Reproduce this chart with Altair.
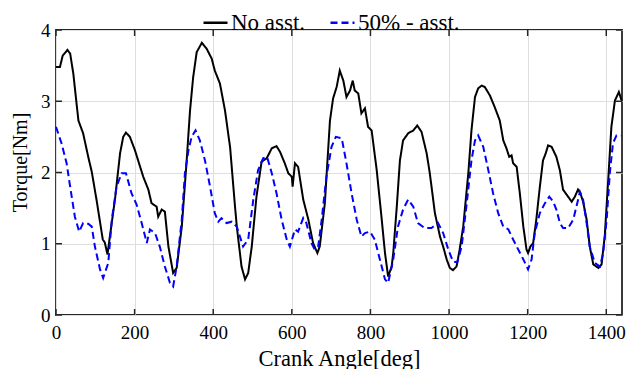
import altair as alt
import pandas as pd

# ---- data ----
angle_no = [0, 10, 17, 29, 36, 44, 57, 69, 82, 91, 103, 119, 124, 131, 137, 150, 163, 171, 178, 188,
            201, 214, 222, 235, 243, 256, 260, 269, 277, 286, 298, 307, 320, 332, 341, 349, 358, 371,
            383, 396, 404, 417, 430, 443, 455, 460, 472, 481, 489, 498, 510, 523, 536, 549, 561, 570,
            582, 591, 600, 602, 608, 616, 629, 642, 654, 665, 671, 684, 697, 705, 714, 722, 731, 739,
            748, 755, 760, 769, 777, 786, 794, 803, 816, 828, 837, 845, 854, 858, 867, 875, 883, 896,
            909, 919, 930, 943, 951, 964, 977, 985, 994, 1002, 1010, 1019, 1027, 1036, 1049, 1057,
            1066, 1074, 1083, 1091, 1104, 1116, 1129, 1138, 1146, 1153, 1159, 1163, 1172, 1180, 1189,
            1197, 1201, 1207, 1214, 1222, 1231, 1239, 1246, 1252, 1261, 1273, 1282, 1290, 1299, 1312,
            1320, 1328, 1334, 1341, 1350, 1358, 1367, 1380, 1388, 1396, 1405, 1413, 1422, 1432, 1439]
torque_no = [3.48, 3.48, 3.64, 3.72, 3.67, 3.39, 2.73, 2.55, 2.22, 2.01, 1.62, 1.06, 1.02, 0.85, 1.10,
             1.62, 2.27, 2.50, 2.56, 2.50, 2.31, 2.08, 1.94, 1.76, 1.57, 1.52, 1.38, 1.48, 1.45, 0.96,
             0.59, 0.66, 1.24, 2.13, 2.87, 3.34, 3.69, 3.82, 3.74, 3.60, 3.43, 3.25, 2.87, 2.35, 1.55,
             1.24, 0.68, 0.50, 0.59, 0.96, 1.66, 2.15, 2.20, 2.34, 2.37, 2.29, 2.13, 1.99, 1.94, 1.80,
             2.13, 2.08, 1.62, 1.34, 1.01, 0.87, 0.96, 1.57, 2.73, 3.04, 3.20, 3.43, 3.29, 3.06, 3.15,
             3.29, 3.15, 3.11, 2.83, 2.90, 2.64, 2.59, 2.03, 1.38, 0.87, 0.54, 0.68, 0.87, 1.52, 2.17,
             2.45, 2.55, 2.59, 2.66, 2.57, 2.27, 1.99, 1.43, 1.10, 0.96, 0.78, 0.66, 0.63, 0.68, 0.92,
             1.24, 1.99, 2.59, 3.06, 3.18, 3.22, 3.20, 3.08, 2.92, 2.73, 2.45, 2.34, 2.22, 2.24, 2.13,
             2.08, 1.71, 1.24, 0.92, 0.87, 0.96, 1.01, 1.34, 1.80, 2.17, 2.27, 2.38, 2.36, 2.22, 2.03,
             1.76, 1.69, 1.59, 1.66, 1.76, 1.71, 1.59, 1.34, 0.96, 0.71, 0.66, 0.71, 1.10, 1.90, 2.64,
             3.01, 3.13, 3.01]

angle_half = [0, 14, 27, 36, 48, 59, 69, 82, 91, 99, 112, 120, 133, 142, 154, 167, 178, 192, 205, 218,
              231, 239, 252, 264, 277, 290, 298, 307, 320, 328, 337, 345, 355, 366, 379, 392, 404, 413,
              421, 434, 447, 460, 476, 489, 502, 514, 527, 537, 549, 561, 574, 587, 595, 608, 616, 629,
              637, 650, 658, 667, 676, 688, 701, 712, 727, 739, 752, 765, 777, 786, 799, 811, 824, 837,
              845, 858, 870, 883, 896, 909, 921, 938, 955, 972, 985, 998, 1010, 1021, 1032, 1044, 1057,
              1066, 1074, 1087, 1100, 1112, 1125, 1138, 1151, 1163, 1176, 1189, 1201, 1210, 1218, 1231,
              1244, 1255, 1265, 1273, 1282, 1290, 1303, 1316, 1324, 1333, 1341, 1350, 1358, 1371, 1384,
              1392, 1401, 1409, 1417, 1426, 1439]
torque_half = [2.64, 2.41, 2.13, 1.80, 1.38, 1.17, 1.29, 1.28, 1.24, 0.96, 0.64, 0.52, 0.73, 1.34, 1.80,
               1.99, 1.99, 1.71, 1.55, 1.29, 1.01, 1.20, 1.15, 0.96, 0.68, 0.45, 0.40, 0.68, 1.34, 1.99,
               2.31, 2.50, 2.59, 2.45, 2.17, 1.80, 1.43, 1.31, 1.36, 1.29, 1.31, 1.24, 0.96, 1.06, 1.62,
               2.03, 2.20, 2.22, 1.99, 1.71, 1.34, 1.06, 0.96, 1.20, 1.17, 1.36, 1.29, 1.01, 0.92, 0.96,
               1.34, 1.94, 2.36, 2.50, 2.48, 2.13, 1.71, 1.34, 1.10, 1.15, 1.17, 1.06, 0.78, 0.50, 0.45,
               0.78, 1.24, 1.48, 1.62, 1.52, 1.29, 1.22, 1.22, 1.29, 1.15, 0.92, 0.75, 0.74, 0.96, 1.52,
               2.17, 2.45, 2.52, 2.36, 2.03, 1.71, 1.43, 1.24, 1.20, 1.06, 0.92, 0.78, 0.64, 0.78, 1.15,
               1.43, 1.57, 1.66, 1.59, 1.48, 1.29, 1.22, 1.22, 1.34, 1.52, 1.73, 1.62, 1.29, 0.96, 0.73,
               0.68, 0.87, 1.34, 1.99, 2.41, 2.52, 2.52]

series_names = ["No asst.", "50% - asst."]
x_ticks = [0, 200, 400, 600, 800, 1000, 1200, 1400]
y_ticks = [0, 1, 2, 3, 4]

df = pd.concat([
    pd.DataFrame({"angle": angle_no, "torque": torque_no, "series": series_names[0]}),
    pd.DataFrame({"angle": angle_half, "torque": torque_half, "series": series_names[1]}),
], ignore_index=True)

FONT = "Liberation Serif, Times New Roman, Times, serif"
W, H = 566, 285
FRAME = "#262626"

x_axis = alt.Axis(values=x_ticks, format="d", title="Crank Angle[deg]", ticks=False, tickSize=0,
                  domain=False, grid=True, gridColor="#dedede", gridWidth=1,
                  labelFont=FONT, labelFontSize=19, labelColor="black", labelPadding=17,
                  labelBaseline="middle", labelFlush=False,
                  titleFont=FONT, titleFontSize=22.5, titleFontWeight="normal", titleColor="black",
                  titleBaseline="middle", titleY=43)
y_axis = alt.Axis(values=y_ticks, format="d", title="Torque[Nm]", ticks=False, tickSize=0,
                  domain=False, grid=True, gridColor="#dedede", gridWidth=1,
                  labelFont=FONT, labelFontSize=19, labelColor="black", labelPadding=6,
                  labelBaseline="middle", labelFlush=False,
                  titleFont=FONT, titleFontSize=20, titleFontWeight="normal", titleColor="black",
                  titleBaseline="middle", titleX=-36, titleY=132)

X = alt.X("angle:Q", scale=alt.Scale(domain=[0, 1440], nice=False, zero=False), axis=x_axis)
Y = alt.Y("torque:Q", scale=alt.Scale(domain=[0, 4], nice=False), axis=y_axis)

legend_opts = dict(title=None, orient="none", legendX=146, legendY=-21, direction="horizontal",
                   symbolType="stroke", symbolSize=576, symbolStrokeWidth=2.5, labelFont=FONT,
                   labelFontSize=23, labelColor="black", labelOffset=2, columnPadding=19, padding=0)

lines = alt.Chart(df).mark_line(strokeWidth=2).encode(
    x=X, y=Y,
    color=alt.Color("series:N", scale=alt.Scale(domain=series_names, range=["black", "#0000ff"]),
                    legend=alt.Legend(**legend_opts)),
    strokeDash=alt.StrokeDash("series:N", scale=alt.Scale(domain=series_names, range=[[1, 0], [7, 4]]),
                              legend=alt.Legend(**legend_opts)),
    detail="series:N",
    order=alt.Order("angle:Q"),
)

xt = pd.DataFrame({"angle": x_ticks})
yt = pd.DataFrame({"torque": y_ticks})
tick_style = dict(color=FRAME, strokeWidth=1.5)
bottom_ticks = alt.Chart(xt).mark_rule(**tick_style).encode(x=X, y=alt.value(H), y2=alt.value(H - 6))
top_ticks = alt.Chart(xt).mark_rule(**tick_style).encode(x=X, y=alt.value(0), y2=alt.value(6))
left_ticks = alt.Chart(yt).mark_rule(**tick_style).encode(y=Y, x=alt.value(0), x2=alt.value(6))
right_ticks = alt.Chart(yt).mark_rule(**tick_style).encode(y=Y, x=alt.value(W), x2=alt.value(W - 6))

chart = alt.layer(lines, bottom_ticks, top_ticks, left_ticks, right_ticks).properties(
    width=W, height=H,
    autosize=alt.AutoSizeParams(type="none"),
    padding={"left": 56, "top": 30, "right": 6, "bottom": 54},
    background="white",
).configure_view(stroke=FRAME, strokeWidth=1.8)

chart.save("out.html", embed_options={"renderer": "svg", "actions": False})
